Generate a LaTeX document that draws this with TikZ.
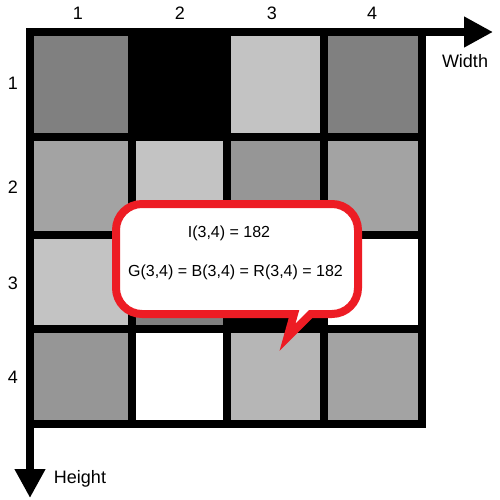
\documentclass[tikz,border=0pt]{standalone}
\usepackage{fontspec}
\setmainfont{Liberation Sans}
\usepackage{tikz}
\usetikzlibrary{arrows.meta}

\definecolor{px128}{RGB}{128,128,128}
\definecolor{px150}{RGB}{150,150,150}
\definecolor{px163}{RGB}{163,163,163}
\definecolor{px182}{RGB}{182,182,182}
\definecolor{px195}{RGB}{195,195,195}
\definecolor{bubblered}{RGB}{237,28,36}

\begin{document}
\begin{tikzpicture}[x=1pt, y=-1pt,
	axis/.style={line width=8pt, -{Triangle[length=29pt, width=29pt]}},
	lbl/.style={anchor=base, inner sep=0pt, font=\fontsize{18}{21}\selectfont},
	note/.style={anchor=base, inner sep=0pt, font=\fontsize{16}{19}\selectfont},
	bubble/.style={draw=bubblered, line width=8pt, fill=white, line join=miter}]
	\useasboundingbox (0,0) rectangle (500,500);
	% grid of pixels
	\fill (26,28) rectangle (426,428);
	\fill[px128] (34,36) rectangle (128,133);
	\fill[px195] (231,36) rectangle (320,133);
	\fill[px128] (328,36) rectangle (418,133);
	\fill[px163] (34,141) rectangle (128,231);
	\fill[px195] (136,141) rectangle (223,231);
	\fill[px150] (231,141) rectangle (320,231);
	\fill[px163] (328,141) rectangle (418,231);
	\fill[px195] (34,239) rectangle (128,325);
	\fill[px128] (136,239) rectangle (223,325);
	\fill[white] (328,239) rectangle (418,325);
	\fill[px150] (34,333) rectangle (128,420);
	\fill[white] (136,333) rectangle (223,420);
	\fill[px182] (231,333) rectangle (320,420);
	\fill[px163] (328,333) rectangle (418,420);
	% axes
	\coordinate (origin) at (30,32);
	\coordinate (wtip) at (493,32);
	\coordinate (htip) at (30,498);
	\draw[axis] (origin) -- (wtip);
	\draw[axis] (origin) -- (htip);
	\node[lbl] (width) at (465,68) {Width};
	\node[lbl] (height) at (80,483) {Height};
	\node[lbl] (col1) at (78,20) {1};
	\node[lbl] (col2) at (180,20) {2};
	\node[lbl] (col3) at (272,20) {3};
	\node[lbl] (col4) at (372,20) {4};
	\node[lbl] (row1) at (13,90) {1};
	\node[lbl] (row2) at (13,193) {2};
	\node[lbl] (row3) at (13,289) {3};
	\node[lbl] (row4) at (13,383) {4};
	% callout
	\coordinate (tip) at (287.5,337.2);
	\coordinate (ptl) at (294,314);
	\coordinate (ptr) at (310.7,314);
	\draw[bubble] (tip) -- (ptl) [rounded corners=26pt] -- (116,314) -- (116,204)
		-- (358,204) -- (358,314) [sharp corners] -- (ptr) -- cycle;
	\node[note] (intensity) at (229,237) {I(3,4) = 182};
	\node[note] (channels) at (235.5,276) {G(3,4) = B(3,4) = R(3,4) = 182};
\end{tikzpicture}
\end{document}
